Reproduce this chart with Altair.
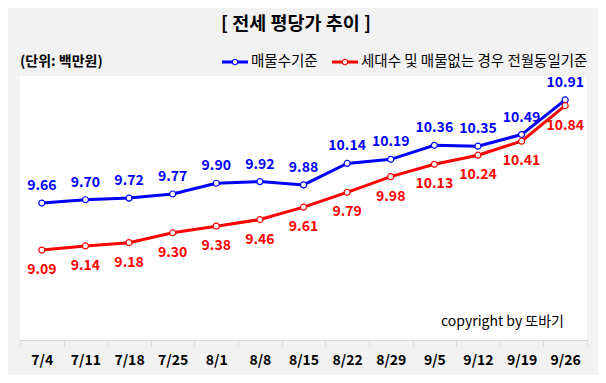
import altair as alt
import pandas as pd

dates = ["7/4","7/11","7/18","7/25","8/1","8/8","8/15","8/22","8/29","9/5","9/12","9/19","9/26"]
blue_vals = [9.66,9.70,9.72,9.77,9.90,9.92,9.88,10.14,10.19,10.36,10.35,10.49,10.91]
red_vals = [9.09,9.14,9.18,9.30,9.38,9.46,9.61,9.79,9.98,10.13,10.24,10.41,10.84]
series_names = ["매물수기준", "세대수 및 매물없는 경우 전월동일기준"]
colors = ["#0000ff", "#ff0000"]

FONT = "Noto Sans CJK KR"
W, H = 567, 264

df = pd.DataFrame({
    "date": dates * 2,
    "value": blue_vals + red_vals,
    "series": [series_names[0]] * len(dates) + [series_names[1]] * len(dates),
})

xenc = alt.X("date:N", sort=dates, title=None,
             scale=alt.Scale(paddingInner=0, paddingOuter=0),
             axis=alt.Axis(labelAngle=0, labelFont=FONT, labelFontSize=14, labelFontWeight="bold",
                           labelColor="#000000", domainColor="#d9d9d9", tickColor="#d9d9d9",
                           tickSize=6, labelPadding=7, tickBand="extent", grid=False))
yenc = alt.Y("value:Q", scale=alt.Scale(domain=[8.0, 11.2], nice=False, zero=False), axis=None)
cenc = alt.Color("series:N", scale=alt.Scale(domain=series_names, range=colors), legend=None)

base = alt.Chart(df)
lines = base.mark_line(strokeWidth=3).encode(x=xenc, y=yenc, color=cenc, detail="series:N")
points = base.mark_point(filled=True, fill="white", size=36, strokeWidth=1.2, opacity=1).encode(
    x=xenc, y=yenc, stroke=alt.Stroke("series:N", scale=alt.Scale(domain=series_names, range=colors), legend=None))

lab_blue = base.transform_filter(alt.datum.series == series_names[0]).mark_text(
    font=FONT, fontSize=14, fontWeight="bold", dy=-17, baseline="middle", color=colors[0]
).encode(x=xenc, y=yenc, text=alt.Text("value:Q", format=".2f"))
lab_red = base.transform_filter(alt.datum.series == series_names[1]).mark_text(
    font=FONT, fontSize=14, fontWeight="bold", dy=20, baseline="middle", color=colors[1]
).encode(x=xenc, y=yenc, text=alt.Text("value:Q", format=".2f"))

one = alt.Chart(pd.DataFrame({"a": [0]}))
title = one.mark_text(font=FONT, fontSize=18.5, fontWeight="bold", align="center", baseline="middle",
                      color="#000").encode(x=alt.value(276), y=alt.value(-52), text=alt.value("[ 전세 평당가 추이 ]"))
unit = one.mark_text(font=FONT, fontSize=14, fontWeight="bold", align="left", baseline="middle",
                     color="#000").encode(x=alt.value(0), y=alt.value(-14), text=alt.value("(단위: 백만원)"))
leg1_line = one.mark_rule(color=colors[0], strokeWidth=3).encode(x=alt.value(202), x2=alt.value(228), y=alt.value(-14))
leg1_pt = one.mark_point(filled=True, fill="white", stroke=colors[0], size=30, strokeWidth=1.2, opacity=1).encode(
    x=alt.value(215), y=alt.value(-14))
leg1_txt = one.mark_text(font=FONT, fontSize=14.5, align="left", baseline="middle", color="#000").encode(
    x=alt.value(231), y=alt.value(-14), text=alt.value(series_names[0]))
leg2_line = one.mark_rule(color=colors[1], strokeWidth=3).encode(x=alt.value(312), x2=alt.value(338), y=alt.value(-14))
leg2_pt = one.mark_point(filled=True, fill="white", stroke=colors[1], size=30, strokeWidth=1.2, opacity=1).encode(
    x=alt.value(325), y=alt.value(-14))
leg2_txt = one.mark_text(font=FONT, fontSize=14.5, align="left", baseline="middle", color="#000").encode(
    x=alt.value(341), y=alt.value(-14), text=alt.value(series_names[1]))
copyright = one.mark_text(font=FONT, fontSize=14, align="right", baseline="middle", color="#000").encode(
    x=alt.value(544), y=alt.value(246), text=alt.value("copyright by 또바기"))

chart = alt.layer(
    lines, points, lab_blue, lab_red, title, unit, leg1_line, leg1_pt, leg1_txt, leg2_line, leg2_pt, leg2_txt, copyright
).properties(
    width=W, height=H,
    autosize=alt.AutoSizeParams(type="none"),
    padding={"left": 12, "top": 68, "right": 11, "bottom": 35},
    background="#f2f2f2",
).configure_view(stroke=None, fill="white")

chart.save("out.html", embed_options={"renderer": "svg", "actions": False})
